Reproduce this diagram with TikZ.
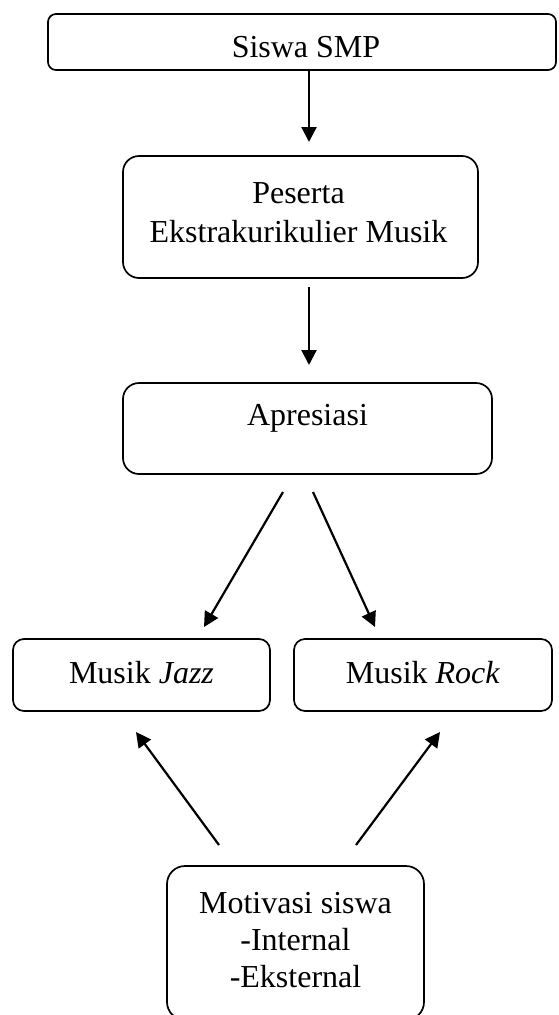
\documentclass[tikz,border=0pt]{standalone}
\usepackage{fontspec}
\setmainfont{Liberation Serif}
\usetikzlibrary{arrows.meta}
\begin{document}
\begin{tikzpicture}[x=1pt,y=1pt,
  box/.style={draw,line width=1.7pt,inner sep=0pt},
  txt/.style={anchor=base,inner sep=0pt,font=\fontsize{32}{38}\selectfont},
  arr/.style={line width=2.2pt,-{Triangle[length=15pt,width=15pt]}}]
\useasboundingbox (0,0) rectangle (558,-1015);
% boxes
\node[box,rounded corners=8pt,minimum width=508pt,minimum height=56pt] (b1) at (302,-42) {};
\node[box,rounded corners=16pt,minimum width=355pt,minimum height=122pt] (b2) at (300.5,-217) {};
\node[box,rounded corners=16pt,minimum width=369pt,minimum height=91pt] (b3) at (307.5,-428.5) {};
\node[box,rounded corners=11pt,minimum width=257pt,minimum height=72pt] (b4) at (141.5,-675) {};
\node[box,rounded corners=11pt,minimum width=258pt,minimum height=72pt] (b5) at (423,-675) {};
\node[box,rounded corners=18pt,minimum width=257pt,minimum height=154pt] (b6) at (295.5,-943) {};
% texts
\node[txt] (t1) at (306,-57) {Siswa SMP};
\node[txt] (t2a) at (298.5,-203) {Peserta};
\node[txt] (t2b) at (298.5,-242) {Ekstrakurikulier Musik};
\node[txt] (t3) at (307.5,-425) {Apresiasi};
\node[txt] (t4) at (141.5,-683) {Musik \textit{Jazz}};
\node[txt] (t5) at (423,-683) {Musik \textit{Rock}};
\node[txt] (t6a) at (295.5,-913) {Motivasi siswa};
\node[txt] (t6b) at (295.5,-950) {-Internal};
\node[txt] (t6c) at (295.5,-987) {-Eksternal};
% arrow ends
\coordinate (a1s) at (309,-70);
\coordinate (a1e) at (309,-142);
\coordinate (a2s) at (309,-287);
\coordinate (a2e) at (309,-365);
\coordinate (a3s) at (283,-492);
\coordinate (a3e) at (204,-627);
\coordinate (a4s) at (313,-492);
\coordinate (a4e) at (375,-627);
\coordinate (a5s) at (219,-845);
\coordinate (a5e) at (136,-732);
\coordinate (a6s) at (356,-845);
\coordinate (a6e) at (440,-732);
\draw[arr] (a1s) -- (a1e);
\draw[arr] (a2s) -- (a2e);
\draw[arr] (a3s) -- (a3e);
\draw[arr] (a4s) -- (a4e);
\draw[arr] (a5s) -- (a5e);
\draw[arr] (a6s) -- (a6e);
\end{tikzpicture}
\end{document}
